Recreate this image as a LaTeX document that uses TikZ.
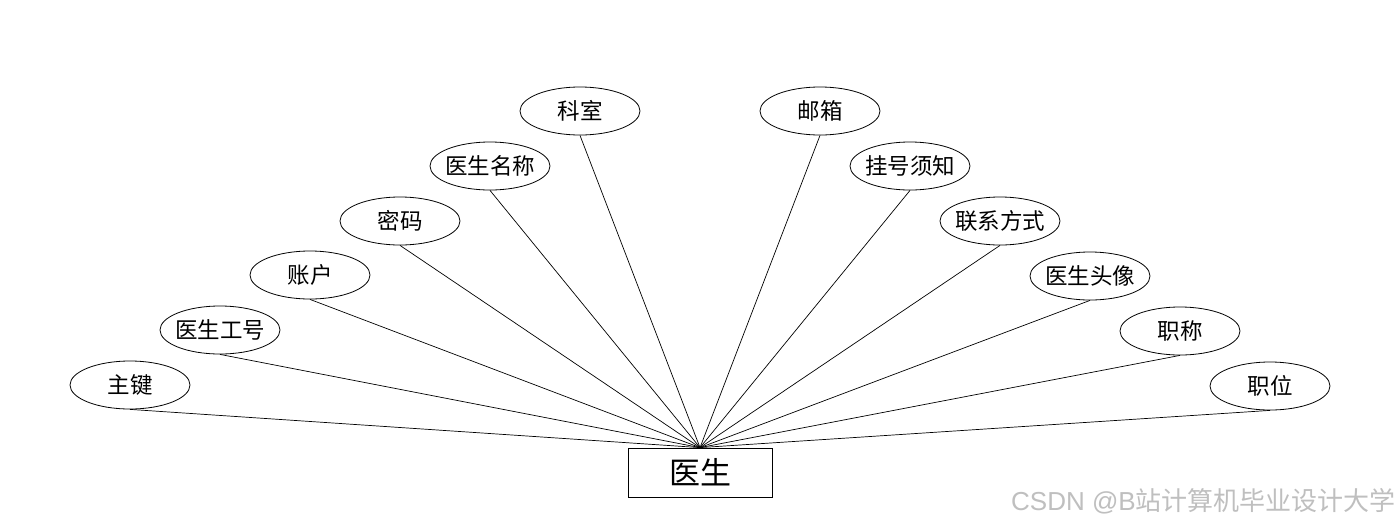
\documentclass[tikz,border=0pt]{standalone}
\usepackage{fontspec}
\setmainfont{Noto Sans CJK SC}
\newfontfamily\wmfont{Liberation Sans}
\usetikzlibrary{shapes.geometric}
\begin{document}
\begin{tikzpicture}[x=1pt,y=-1pt,
  attr/.style={ellipse,draw,line width=0.8pt,minimum width=120pt,minimum height=48pt,inner sep=0pt,
    label={[font=\fontsize{22.5}{24}\selectfont,inner sep=0pt]center:#1}},
  ent/.style={rectangle,draw,line width=0.8pt,minimum width=144pt,minimum height=49pt,inner sep=0pt,font=\fontsize{31}{34}\selectfont},
  conn/.style={line width=0.7pt}]
\useasboundingbox (0,0) rectangle (1400,528);
\fill[white] (0,0) rectangle (1400,528);
\node[ent] (e) at (700,472.5) {医生};
\node[attr=主键] (a1) at (130,385) {};
\node[attr=医生工号] (a2) at (220,330) {};
\node[attr=账户] (a3) at (310,275) {};
\node[attr=密码] (a4) at (400,221) {};
\node[attr=医生名称] (a5) at (490,166) {};
\node[attr=科室] (a6) at (580,111) {};
\node[attr=邮箱] (a7) at (820,111) {};
\node[attr=挂号须知] (a8) at (910,166) {};
\node[attr=联系方式] (a9) at (1000,221) {};
\node[attr=医生头像] (a10) at (1090,276) {};
\node[attr=职称] (a11) at (1180,331) {};
\node[attr=职位] (a12) at (1270,386) {};
\foreach \i in {1,...,12} \draw[conn] (a\i.south) -- (e.north);
\node[font=\fontsize{26}{28}\selectfont,text=black!25,anchor=east,inner sep=0pt] (wm) at (1396,501) {{\wmfont CSDN @B}站计算机毕业设计大学};
\end{tikzpicture}
\end{document}
